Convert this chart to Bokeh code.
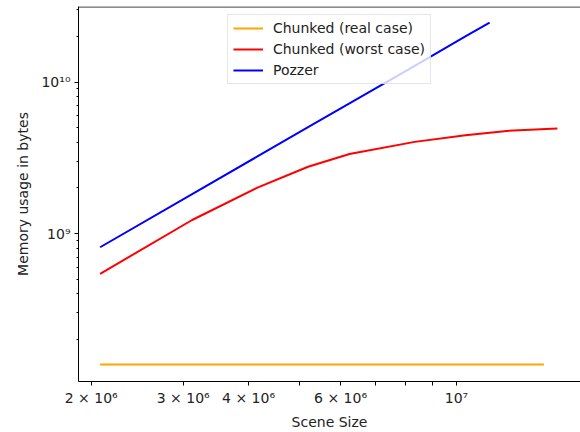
from bokeh.plotting import figure
from bokeh.models import Range1d, FixedTicker, Legend, Span
from bokeh.embed import file_html
from bokeh.resources import INLINE

# ---- data ----
real_x = [2.08e6, 3.12e6, 4.16e6, 5.2e6, 6.24e6, 8.32e6, 10.4e6, 12.48e6, 14.7e6]
real_y = [1.37e8, 1.37e8, 1.37e8, 1.37e8, 1.37e8, 1.37e8, 1.37e8, 1.37e8, 1.37e8]

worst_x = [2.08e6, 3.12e6, 4.16e6, 5.2e6, 6.24e6, 8.32e6, 10.4e6, 12.48e6, 15.6e6]
worst_y = [5.43e8, 1.23e9, 2.01e9, 2.76e9, 3.35e9, 4.03e9, 4.46e9, 4.76e9, 4.93e9]

pozzer_x = [2.08e6, 3.12e6, 4.16e6, 5.2e6, 6.24e6, 8.32e6, 10.4e6, 11.57e6]
pozzer_y = [8.13e8, 1.82e9, 3.23e9, 5.04e9, 7.23e9, 1.28e10, 2.0e10, 2.47e10]

series_names = ["Chunked (real case)", "Chunked (worst case)", "Pozzer"]

x_tick_values = [2e6, 3e6, 4e6, 5e6, 6e6, 7e6, 8e6, 9e6, 1e7]
x_tick_labels = ["2 × 10⁶", "3 × 10⁶", "4 × 10⁶", "", "6 × 10⁶", "", "", "", "10⁷"]
y_major_values = [1e9, 1e10]
y_major_labels = ["10⁹", "10¹⁰"]
y_minor_values = [2e8, 3e8, 4e8, 5e8, 6e8, 7e8, 8e8, 9e8,
                  2e9, 3e9, 4e9, 5e9, 6e9, 7e9, 8e9, 9e9, 2e10, 3e10]

FONT = "DejaVu Sans"
FS = "14px"

Y_TOP = 3.15e10

p = figure(width=580, height=432, output_backend="svg", toolbar_location=None,
           x_axis_type="log", y_axis_type="log",
           x_range=Range1d(1.891e6, 1.727e7), y_range=Range1d(1.058e8, Y_TOP),
           min_border_left=78, min_border_right=0, min_border_top=6, min_border_bottom=50)

p.title.visible = False
p.outline_line_color = None
p.xgrid.visible = False
p.ygrid.visible = False
p.background_fill_color = "white"
p.border_fill_color = "white"

colors = ["orange", "red", "blue"]
r1 = p.line(real_x, real_y, line_color=colors[0], line_width=2)
r2 = p.line(worst_x, worst_y, line_color=colors[1], line_width=2)
r3 = p.line(pozzer_x, pozzer_y, line_color=colors[2], line_width=2)

legend = Legend(items=[(series_names[0], [r1]), (series_names[1], [r2]), (series_names[2], [r3])],
                location="top_center", margin=8, padding=5, spacing=5,
                label_height=16, glyph_height=16, glyph_width=30, label_standoff=10,
                label_text_font=FONT, label_text_font_size=FS, label_text_color="#222222",
                border_line_color="#cccccc", border_line_width=1,
                background_fill_color="white", background_fill_alpha=0.8)
p.add_layout(legend, "center")

# x axis
xa = p.xaxis[0]
xa.ticker = FixedTicker(ticks=x_tick_values, minor_ticks=[])
xa.major_label_overrides = {v: l for v, l in zip(x_tick_values, x_tick_labels)}
xa.axis_label = "Scene Size"
# y axis
ya = p.yaxis[0]
ya.ticker = FixedTicker(ticks=y_major_values, minor_ticks=y_minor_values)
ya.major_label_overrides = {v: l for v, l in zip(y_major_values, y_major_labels)}
ya.axis_label = "Memory usage in bytes"

for ax in (xa, ya):
    ax.axis_line_color = "black"
    ax.axis_line_width = 1
    ax.major_tick_line_color = "black"
    ax.minor_tick_line_color = "black"
    ax.major_tick_in = 0
    ax.minor_tick_in = 0
    ax.major_tick_out = 4
    ax.minor_tick_out = 2
    ax.major_label_text_font = FONT
    ax.major_label_text_font_size = FS
    ax.major_label_text_color = "#222222"
    ax.axis_label_text_font = FONT
    ax.axis_label_text_font_size = FS
    ax.axis_label_text_font_style = "normal"
    ax.axis_label_text_color = "#222222"
    ax.major_label_standoff = 4
xa.axis_label_standoff = 5
ya.axis_label_standoff = 7

# top spine, drawn just inside the frame's upper edge
p.add_layout(Span(location=Y_TOP * 0.993, dimension="width",
                  line_color="black", line_width=1))

open("out.html", "w").write(file_html(p, INLINE))
